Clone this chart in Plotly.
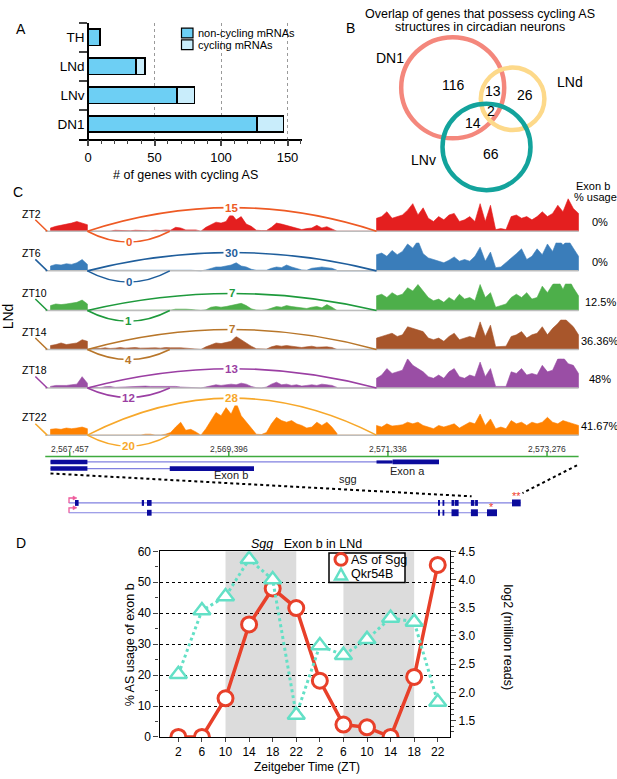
import numpy as np
import plotly.graph_objects as go

W, H = 617, 779
FONT = "Liberation Sans, Arial, sans-serif"


def fx(px):
    return px / W


def fy(py):
    return 1 - py / H


# ---------------- panel A: genes with cycling AS ----------------
CELLS = ["DN1", "LNv", "LNd", "TH"]
NON_CYCLING = [127, 67, 36, 9]
CYCLING = [20, 13, 7, 0]

# ---------------- panel B: venn counts ----------------
VENN_SETS = ["DN1", "LNd", "LNv"]
VENN_REGIONS = ["DN1", "DN1+LNd", "LNd", "all", "DN1+LNv", "LNv"]
VENN_COUNTS = [116, 13, 26, 2, 14, 66]

# ---------------- panel C: sashimi tracks ----------------
ZT_NAMES = ["ZT2", "ZT6", "ZT10", "ZT14", "ZT18", "ZT22"]
SKIP_READS = [15, 30, 7, 7, 13, 28]      # left exon -> exon a
EXONB_READS = [0, 0, 1, 4, 12, 20]       # left exon -> exon b
USAGE = ["0%", "0%", "12.5%", "36.36%", "48%", "41.67%"]

RULER_TICKS = [2567457, 2569396, 2571336, 2573276]
RULER_SPAN = (2567158, 2573661)
EXON_LEFT = (2567222, 2567672)
EXON_B = (2568676, 2569703)
EXON_A_UTR = (2571197, 2571393)
EXON_A = (2571393, 2571959)
MID_REGION = (2567703, 2570715)
RIGHT_REGION = (2571197, 2573660)

LEFT_COV = [
    [10, 15, 18, 20, 25, 30, 25, 20],
    [15, 20, 18, 22, 20, 25, 35, 20],
    [15, 20, 18, 20, 22, 25, 32, 20],
    [12, 15, 20, 15, 18, 20, 30, 25],
    [5, 8, 7, 8, 10, 12, 35, 15],
    [18, 20, 18, 22, 20, 22, 25, 20],
]
MID_COV = [
    [0, 2, 0, 1, 0, 3, 2, 3, 1, 3, 2, 3, 1, 3, 2, 4, 3,
     12, 10, 4, 5, 4, 0, 12, 20, 28, 25, 30, 55, 35, 45, 22, 15, 3, 2, 2,
     12, 25, 22, 18, 12, 10, 5, 8, 10, 18, 10, 14, 8, 2],
    [1, 2, 2, 3, 2, 3, 2, 4, 3, 2, 3, 4, 2, 3, 3, 2, 3, 2, 4, 3, 2, 1, 0,
     3, 8, 12, 12, 15, 18, 25, 15, 12, 5, 2, 1, 2, 8, 12, 10, 18, 12, 8, 3,
     2, 8, 10, 12, 10, 8, 2],
    [0, 1, 0, 0, 1, 0, 1, 2, 0, 1, 0, 0, 1, 0, 1, 0, 1,
     4, 5, 4, 3, 1, 0, 2, 10, 12, 10, 12, 15, 18, 22, 15, 5, 1, 0, 2,
     8, 12, 10, 15, 12, 10, 8, 6, 10, 12, 8, 18, 10, 2],
    [2, 4, 3, 5, 3, 4, 6, 4, 5, 6, 4, 5, 6, 5, 4, 6, 5,
     6, 5, 4, 3, 2, 0, 8, 15, 20, 18, 22, 25, 40, 30, 18, 10, 2, 1, 1,
     8, 12, 10, 12, 10, 8, 6, 8, 10, 7, 8, 8, 6, 2],
    [2, 3, 1, 4, 5, 2, 3, 2, 4, 5, 5, 6, 5, 5, 6, 5, 4,
     5, 3, 3, 2, 1, 0, 4, 8, 10, 8, 10, 12, 10, 15, 12, 5, 1, 0, 3,
     12, 18, 10, 12, 8, 10, 6, 8, 10, 8, 12, 10, 8, 2],
    [0, 0, 0, 0, 0, 0, 0, 0, 0, 0, 0, 3, 3, 0, 0, 3, 8,
     25, 40, 15, 18, 10, 0, 20, 45, 70, 60, 85, 65, 100, 60, 40, 20, 3, 2, 8,
     35, 55, 45, 40, 45, 35, 30, 22, 25, 40, 30, 40, 25, 5],
]
RIGHT_COV = [
    [40, 45, 60, 40, 45, 50, 65, 85, 50, 72, 40, 30, 45, 35, 50, 55, 30, 35, 45, 30,
     85, 30, 80, 5, 8, 5, 45, 50, 40, 45, 35, 45, 60, 45, 55, 80, 60, 100, 70, 55],
    [50, 55, 45, 63, 50, 60, 83, 70, 93, 53, 40, 35, 30, 25, 33, 43, 30, 35, 30, 45,
     73, 30, 58, 10, 12, 25, 40, 53, 68, 35, 45, 68, 50, 83, 60, 100, 80, 95, 70, 45],
    [45, 50, 40, 55, 45, 50, 70, 60, 80, 60, 40, 30, 35, 25, 40, 30, 50, 35, 40, 30,
     80, 40, 55, 10, 15, 20, 40, 50, 40, 55, 35, 40, 75, 55, 80, 95, 65, 100, 70, 45],
    [35, 40, 45, 50, 40, 45, 70, 65, 60, 55, 35, 30, 35, 25, 40, 50, 30, 35, 40, 35,
     85, 40, 75, 8, 8, 10, 40, 45, 55, 35, 45, 50, 70, 45, 65, 80, 100, 85, 70, 45],
    [30, 40, 60, 45, 50, 55, 90, 70, 60, 50, 35, 30, 40, 30, 50, 60, 35, 30, 40, 35,
     80, 35, 60, 5, 5, 5, 50, 45, 60, 40, 45, 40, 70, 50, 55, 90, 95, 75, 70, 45],
    [30, 25, 35, 28, 30, 32, 40, 35, 40, 30, 25, 20, 30, 25, 30, 35, 22, 30, 40, 35,
     65, 30, 50, 20, 25, 20, 45, 35, 40, 30, 40, 35, 40, 55, 40, 35, 45, 40, 35, 30],
]

# zoomed-out sgg gene model (0-100 along the locus)
OV_ROW_A_EXONS = [(1.37, 2.17), (16.15, 16.64), (17.30, 18.32), (81.70, 82.14),
                  (82.70, 83.10), (84.69, 85.33), (85.46, 86.26), (88.98, 89.75),
                  (89.91, 90.53), (98.07, 100.0)]
OV_ROW_B_EXONS = [(17.30, 18.32), (81.70, 82.14), (82.70, 83.10), (84.69, 86.26),
                  (88.98, 90.53), (92.54, 94.76)]
OV_ROW_ENDS = [100.0, 94.76]

# ---------------- panel D: Sgg exon b vs Qkr54B ----------------
ZT_TICKS = ["2", "6", "10", "14", "18", "22", "2", "6", "10", "14", "18", "22"]
AS_SGG = [0, 0, 12.5, 36.36, 48, 41.67, 18.2, 4, 3.1, 0, 19.4, 55.6]
QKR54B = [2.32, 3.45, 3.70, 4.36, 4.00, 1.60, 2.83, 2.66, 2.94, 3.32, 3.25, 1.83]
DARK_PHASES = [(2, 5), (7, 10)]

fig = go.Figure()
shapes = []
ann = []


def text(x, y, s, size=12, color="black", xanchor="center", yanchor="middle", **kw):
    ann.append(dict(x=fx(x), y=fy(y), xref="paper", yref="paper", text=s,
                    showarrow=False, font=dict(family=FONT, size=size, color=color),
                    xanchor=xanchor, yanchor=yanchor, **kw))


def pline(x0, y0, x1, y1, color="black", width=1, dash=None):
    shapes.append(dict(type="line", xref="paper", yref="paper", x0=fx(x0), y0=fy(y0),
                       x1=fx(x1), y1=fy(y1), line=dict(color=color, width=width, dash=dash)))


# ======== panel A ========
fig.add_trace(go.Bar(y=CELLS, x=NON_CYCLING, orientation="h", width=0.56,
                     marker=dict(color="#6DCFF4", line=dict(color="black", width=1.5)),
                     name="non-cycling mRNAs", showlegend=False, xaxis="x", yaxis="y"))
fig.add_trace(go.Bar(y=CELLS, x=CYCLING, orientation="h", width=0.56,
                     marker=dict(color="#C9EDFB", line=dict(color="black", width=1.5)),
                     name="cycling mRNAs", showlegend=False, xaxis="x", yaxis="y"))

text(21, 22, "A", size=14)
text(185, 171, "# of genes with cycling AS", size=12.5)
for i, (lab, col) in enumerate([("non-cycling mRNAs", "#6DCFF4"), ("cycling mRNAs", "#C9EDFB")]):
    yc = 26.5 + 12 * i
    shapes.append(dict(type="rect", xref="paper", yref="paper", x0=fx(181.5), x1=fx(193),
                       y0=fy(yc + 5), y1=fy(yc - 5), fillcolor=col,
                       line=dict(color="black", width=1.2)))
    text(196, yc, lab, size=11, xanchor="left")

# ======== panel B ========
text(350, 21, "B", size=14)
text(480, 7, "Overlap of genes that possess cycling AS", size=12.5)
text(480, 20, "structures in circadian neurons", size=12.5)
venn_geom = {"DN1": (452.7, 82.2, 51.5, "#F4877C"),
             "LNd": (512.6, 93.5, 31.8, "#FDD98A"),
             "LNv": (486.5, 142.5, 44.0, "#13A39C")}
for s in VENN_SETS:
    cx, cy, r, col = venn_geom[s]
    shapes.append(dict(type="circle", xref="paper", yref="paper", x0=fx(cx - r), x1=fx(cx + r),
                       y0=fy(cy + r), y1=fy(cy - r), line=dict(color=col, width=4.5)))
venn_label_pos = {"DN1": (390, 52), "LNd": (570, 76), "LNv": (423, 156)}
for s in VENN_SETS:
    text(*venn_label_pos[s], s, size=14)
venn_count_pos = {"DN1": (453, 79.5), "DN1+LNd": (493, 86), "LNd": (525, 90),
                  "all": (491, 106), "DN1+LNv": (472.7, 117.7), "LNv": (491, 150)}
for reg, n in zip(VENN_REGIONS, VENN_COUNTS):
    text(*venn_count_pos[reg], str(n), size=14)

# ======== panel C ========
COV_COLORS = ["#E41F1F", "#3A7DBA", "#4DAF4A", "#A8562B", "#9A4EA5", "#FF8200"]
ARC_COLORS = ["#EE5A24", "#1F5E9C", "#1E9A3C", "#B8762A", "#9B3FA3", "#F7A82B"]
BASELINES = [228.3, 268.7, 309.0, 348.7, 388.0, 436.0]
ARC_UP = [24, 18.7, 17.3, 20.3, 19.7, 37.7]
ARC_DOWN = [11, 11.3, 11, 10.3, 9.7, 11.3]
K = 100 / 33.0  # coverage units per pixel

text(18, 188, "C", size=14)
text(8, 315, "LNd", size=14, textangle=-90)
text(593, 182, "Exon b", size=11)
text(595, 193, "% usage", size=11)

layout_axes = {}
layout_axes["xaxis3"] = dict(domain=[fx(30), fx(580)], range=[2566972, 2573678],
                             visible=False, anchor="y4", fixedrange=True)
for i in range(6):
    base = BASELINES[i]
    below, above = 18, ARC_UP[i] + 10
    yid = 4 + i
    yref = f"y{yid}"
    layout_axes[f"yaxis{yid}"] = dict(domain=[fy(base + below), fy(base - above)],
                                      range=[-below * K, above * K], visible=False,
                                      anchor="x3", fixedrange=True)
    xs, ys = [], []
    for (a, b), cov in [(EXON_LEFT, LEFT_COV[i]), (MID_REGION, MID_COV[i]),
                        (RIGHT_REGION, RIGHT_COV[i])]:
        xs += [a] + list(np.linspace(a, b, len(cov))) + [b]
        ys += [0] + cov + [0]
    fig.add_trace(go.Scatter(x=xs, y=ys, xaxis="x3", yaxis=yref, mode="lines",
                             line=dict(color=COV_COLORS[i], width=0.6), fill="tozeroy",
                             fillcolor=COV_COLORS[i], hoverinfo="skip", showlegend=False))
    # baseline
    shapes.append(dict(type="line", xref="x3", yref=yref, x0=RULER_SPAN[0], x1=RULER_SPAN[1],
                       y0=0, y1=0, line=dict(color="#BDBDBD", width=1.5)))
    # upstream junction stub
    shapes.append(dict(type="line", xref="x3", yref=yref, x0=2567037, y0=11.7 * K,
                       x1=EXON_LEFT[0] - 40, y1=0, line=dict(color=ARC_COLORS[i], width=1.5)))
    # skipping junction (over exon b)
    x0, x1 = EXON_LEFT[1], RIGHT_REGION[0]
    h = ARC_UP[i] * K
    shapes.append(dict(type="path", xref="x3", yref=yref,
                       path=f"M {x0},0 Q {(x0 + x1) / 2},{2 * h} {x1},0",
                       line=dict(color=ARC_COLORS[i], width=1.6)))
    ann.append(dict(x=(x0 + x1) / 2, y=h, xref="x3", yref=yref, text=f"<b>{SKIP_READS[i]}</b>",
                    showarrow=False, bgcolor="white", borderpad=1,
                    font=dict(family=FONT, size=11.5, color=ARC_COLORS[i])))
    # inclusion junction (to exon b)
    x0, x1 = EXON_LEFT[1], EXON_B[0]
    h = ARC_DOWN[i] * K
    shapes.append(dict(type="path", xref="x3", yref=yref,
                       path=f"M {x0},0 Q {(x0 + x1) / 2},{-2 * h} {x1},0",
                       line=dict(color=ARC_COLORS[i], width=1.6)))
    ann.append(dict(x=(x0 + x1) / 2, y=-h, xref="x3", yref=yref, text=f"<b>{EXONB_READS[i]}</b>",
                    showarrow=False, bgcolor="white", borderpad=1,
                    font=dict(family=FONT, size=11.5, color=ARC_COLORS[i])))
    text(20, base - 18, ZT_NAMES[i], size=10.5, xanchor="left")
    text(600, base - 9, USAGE[i], size=11)

# ruler and transcripts
RY = 457.7
shapes.append(dict(type="line", xref="x3", yref="paper", x0=RULER_SPAN[0], x1=RULER_SPAN[1],
                   y0=fy(RY), y1=fy(RY), line=dict(color="#3FAA3F", width=1.5)))
for t in RULER_TICKS:
    shapes.append(dict(type="line", xref="x3", yref="paper", x0=t, x1=t, y0=fy(453), y1=fy(RY),
                       line=dict(color="#3FAA3F", width=1.5)))
    ann.append(dict(x=t, y=fy(450.5), xref="x3", yref="paper", text=f"{t:,}", showarrow=False,
                    font=dict(family=FONT, size=8.5, color="#333333")))

NAVY = "#0B0B9C"
INTRON = "#8080E0"


def exon_block(a, b, yc, half):
    shapes.append(dict(type="rect", xref="x3", yref="paper", x0=a, x1=b, y0=fy(yc + half),
                       y1=fy(yc - half), fillcolor=NAVY, line=dict(width=0)))


for yc, end, blocks in [(463.3, EXON_A[1], [(EXON_LEFT, 2.3), (EXON_A_UTR, 1.6), (EXON_A, 2.4)]),
                        (470.0, EXON_B[1], [(EXON_LEFT, 2.3), (EXON_B, 2.4)])]:
    shapes.append(dict(type="line", xref="x3", yref="paper", x0=EXON_LEFT[0], x1=end,
                       y0=fy(yc), y1=fy(yc), line=dict(color=INTRON, width=1.2)))
    for (a, b), hh in blocks:
        exon_block(a, b, yc, hh)

text(231, 477, "Exon b", size=11, color="#222222")
text(407, 472, "Exon a", size=11, color="#222222")
text(348, 481, "sgg", size=11, color="#222222")
pline(50.5, 475, 471.6, 498.3, width=2, dash="dot")
pline(577, 466.7, 522.5, 495, width=2, dash="dot")


def ov(u):
    return 68.8 + u * (520.7 - 68.8) / 100.0


for yc, end, exons in [(505, OV_ROW_ENDS[0], OV_ROW_A_EXONS), (515, OV_ROW_ENDS[1], OV_ROW_B_EXONS)]:
    pline(ov(0), yc, ov(end), yc, color=INTRON, width=1.2)
    for a, b in exons:
        hh = 3.5 if b - a > 1.5 else 3.0
        shapes.append(dict(type="rect", xref="paper", yref="paper", x0=fx(ov(a)), x1=fx(ov(b)),
                           y0=fy(yc + hh), y1=fy(yc - hh), fillcolor=NAVY, line=dict(width=0)))
    # transcription start arrow
    ya = yc - 5
    shapes.append(dict(type="path", xref="paper", yref="paper",
                       path=f"M {fx(69)},{fy(yc)} L {fx(69)},{fy(ya)} L {fx(74)},{fy(ya)}",
                       line=dict(color="#EE5A9B", width=1.3)))
    shapes.append(dict(type="path", xref="paper", yref="paper",
                       path=f"M {fx(73)},{fy(ya - 2)} L {fx(77)},{fy(ya)} L {fx(73)},{fy(ya + 2)} Z",
                       fillcolor="#EE5A9B", line=dict(color="#EE5A9B", width=0.5)))
text(516.5, 498, "**", size=11, color="#F03C2C")
text(491, 509, "*", size=11, color="#F03C2C")

# ======== panel D ========
text(20.5, 546, "D", size=14)
text(306.7, 547, "<i>Sgg</i>   Exon b in LNd", size=12.5)
text(130, 650, "% AS usage of exon b", size=12.5, textangle=-90)
text(508, 642, "log2 (million reads)", size=12.5, textangle=90)
text(307, 774, "Zeitgeber Time (ZT)", size=12)

for a, b in DARK_PHASES:
    shapes.append(dict(type="rect", xref="x2", yref="y2 domain", x0=a, x1=b, y0=0, y1=1,
                       fillcolor="#DCDCDC", line=dict(width=0), layer="below"))

fig.add_trace(go.Scatter(x=list(range(12)), y=QKR54B, xaxis="x2", yaxis="y3",
                         mode="lines+markers", name="Qkr54B", showlegend=False,
                         line=dict(color="#63E0C6", width=3, dash="dot"),
                         marker=dict(symbol="triangle-up", size=15, color="white",
                                     line=dict(color="#63E0C6", width=2.5))))
fig.add_trace(go.Scatter(x=list(range(12)), y=AS_SGG, xaxis="x2", yaxis="y2",
                         mode="lines+markers", name="AS of Sgg", showlegend=False,
                         line=dict(color="#E8402A", width=3.5),
                         marker=dict(symbol="circle", size=15, color="white",
                                     line=dict(color="#E8402A", width=3))))

# legend box for panel D
shapes.append(dict(type="rect", xref="paper", yref="paper", x0=fx(329), x1=fx(405),
                   y0=fy(586), y1=fy(556), fillcolor="white", line=dict(color="black", width=1.5)))
shapes.append(dict(type="circle", xref="paper", yref="paper", x0=fx(335), x1=fx(347),
                   y0=fy(568.5), y1=fy(556.5), fillcolor="white",
                   line=dict(color="#E8402A", width=3)))
shapes.append(dict(type="path", xref="paper", yref="paper",
                   path=f"M {fx(335)},{fy(583)} L {fx(341)},{fy(572)} L {fx(347)},{fy(583)} Z",
                   fillcolor="white", line=dict(color="#63E0C6", width=2.5)))
text(349, 563, "AS of Sgg", size=12.5, xanchor="left")
text(349, 577.5, "Qkr54B", size=12.5, xanchor="left")

tick_font = dict(family=FONT, size=12, color="black")
fig.update_layout(
    width=W, height=H, margin=dict(l=0, r=0, t=0, b=0), autosize=False,
    paper_bgcolor="white", plot_bgcolor="rgba(0,0,0,0)",
    barmode="stack", showlegend=False,
    font=dict(family=FONT, color="black"),
    xaxis=dict(domain=[fx(79), fx(302)], range=[-6.77, 160.9], anchor="y",
               tickvals=[0, 50, 100, 150], ticks="outside", ticklen=6, tickwidth=1.5,
               showline=True, linewidth=1.5, linecolor="black", zeroline=False,
               showgrid=True, gridcolor="#9A9A9A", griddash="dot", gridwidth=1,
               minor=dict(dtick=10, tick0=0, ticks="outside", ticklen=4, tickwidth=1.2,
                          showgrid=False),
               tickfont=dict(family=FONT, size=13), fixedrange=True),
    yaxis=dict(domain=[fy(134), fy(16)], type="category", categoryorder="array",
               categoryarray=CELLS, range=[-0.5, 3.5], anchor="free", position=fx(88),
               ticks="outside", tickson="boundaries", ticklen=8, tickwidth=1.5,
               showline=True, linewidth=1.5, linecolor="black", showgrid=False,
               tickfont=dict(family=FONT, size=13.5), fixedrange=True),
    xaxis2=dict(domain=[fx(159.5), fx(450)], range=[-0.8, 11.52], anchor="y2",
                tickvals=list(range(12)), ticktext=ZT_TICKS, ticks="outside", ticklen=4,
                showline=True, mirror=True, linewidth=1.2, linecolor="black",
                showgrid=False, zeroline=False, tickfont=tick_font, fixedrange=True),
    yaxis2=dict(domain=[fy(743.3), fy(554.3)], range=[0, 60], dtick=10, anchor="x2",
                ticks="outside", ticklen=5, showline=True, linewidth=1.2, linecolor="black",
                showgrid=True, gridcolor="black", griddash="dot", gridwidth=1, zeroline=False,
                minor=dict(dtick=5, ticks="outside", ticklen=3, showgrid=False),
                tickfont=tick_font, fixedrange=True),
    yaxis3=dict(overlaying="y2", side="right", anchor="x2", range=[1.211, 4.5],
                tickvals=[1.5, 2.0, 2.5, 3.0, 3.5, 4.0, 4.5], tickformat=".1f",
                ticks="outside", ticklen=5, showline=True, linewidth=1.2, linecolor="black",
                showgrid=False, zeroline=False,
                minor=dict(dtick=0.1, ticks="outside", ticklen=3, showgrid=False),
                tickfont=tick_font, fixedrange=True),
    shapes=shapes, annotations=ann,
)
fig.update_layout(**layout_axes)

fig.write_html("out.html", config={"displayModeBar": False})

# keep the page exactly the size of the figure (no default body margin)
with open("out.html", encoding="utf-8") as f:
    page = f.read()
page = page.replace("<head>", "<head><style>html,body{margin:0;padding:0;overflow:hidden;}</style>", 1)
with open("out.html", "w", encoding="utf-8") as f:
    f.write(page)
